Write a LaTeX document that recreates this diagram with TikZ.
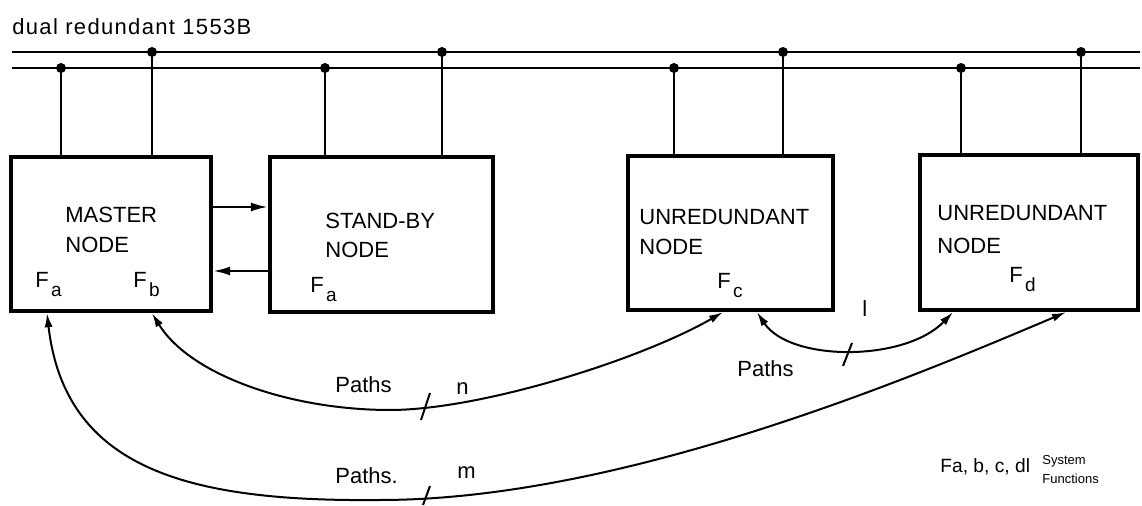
\documentclass[tikz,border=0pt]{standalone}
\usepackage{fontspec}
\setmainfont{Liberation Sans}
\usetikzlibrary{arrows.meta,calc}

% subscripted function label, e.g. \Fn{a}
\newcommand{\Fn}[1]{F\kern1.2pt\raisebox{-4.5pt}{\fontsize{9.5}{10}\selectfont #1}}

\tikzset{
  px/.style={x=0.5pt,y=-0.5pt},
  box/.style={draw,line width=2.2pt,inner sep=0pt},
  bus/.style={line width=1.1pt},
  tap/.style={line width=1.4pt},
  tapdot/.style={fill,circle,inner sep=0pt,minimum size=5pt},
  link/.style={line width=1.1pt,-{Latex[length=8.5pt,width=4.5pt]}},
  conn/.style={line width=1pt,{Latex[length=7pt,width=4pt]}-{Latex[length=7pt,width=4pt]}},
  tick/.style={line width=1pt},
  lbl/.style={inner sep=0pt,anchor=north west,align=left,
              font=\fontsize{11}{15}\selectfont},
  fn/.style={inner sep=0pt,anchor=base west,font=\fontsize{11}{13}\selectfont},
}

\begin{document}
\begin{tikzpicture}[px]
\useasboundingbox (0,0) rectangle (1142,506);

% title
\node[lbl,font=\addfontfeatures{LetterSpace=6}\fontsize{11}{13}\selectfont] (title) at (12,18) {dual redundant 1553B};

% the two bus lines
\coordinate (busAl) at (12,52);  \coordinate (busAr) at (1140,52);
\coordinate (busBl) at (12,68);  \coordinate (busBr) at (1140,68);
\draw[bus] (busAl) -- (busAr);
\draw[bus] (busBl) -- (busBr);

% nodes
\node[box,minimum width=100pt,minimum height=77pt]    (m)  at (111,234) {};
\node[box,minimum width=111.5pt,minimum height=77.5pt] (s) at (381.5,234.5) {};
\node[box,minimum width=102.5pt,minimum height=77pt]  (u1) at (730.5,233) {};
\node[box,minimum width=109pt,minimum height=77.5pt]  (u2) at (1029,232.5) {};

% bus taps: (x, bus) -> box top
\foreach \nm/\x/\y/\bx in {t1/61/68/m, t2/152/52/m, t3/325/68/s, t4/442/52/s,
                           t5/674/68/u1, t6/783/52/u1, t7/961/68/u2, t8/1081/52/u2}{
  \node[tapdot] (\nm) at (\x,\y) {};
  \draw[tap] (\nm.center) -- (\nm.center |- \bx.north);
}

% node texts
\node[lbl] (mT) at (65,207) {MASTER\\NODE};
\node[fn] (mFa) at (35,288) {\Fn{a}};
\node[fn] (mFb) at (133,288) {\Fn{b}};

\node[lbl,font=\fontsize{11}{14.5}\selectfont] (sT) at (325,213) {STAND-BY\\NODE};
\node[fn] (sFa) at (310,293) {\Fn{a}};

\node[lbl,font=\fontsize{11}{14.75}\selectfont] (u1T) at (639,209) {UNREDUNDANT\\NODE};
\node[fn] (u1Fc) at (717,289) {\Fn{c}};

\node[lbl,font=\fontsize{11}{16.5}\selectfont] (u2T) at (937,205) {UNREDUNDANT\\NODE};
\node[fn] (u2Fd) at (1009,283) {\Fn{d}};

% master <-> stand-by links
\draw[link] (m.east |- 0,207) -- (s.west |- 0,207);
\draw[link] (s.west |- 0,271) -- (m.east |- 0,271);

% path end points on the box bottoms
\coordinate (pmA) at ($(m.south)+(-64,0)$);
\coordinate (pmB) at ($(m.south)+(41,0)$);
\coordinate (pu1n) at ($(u1.south)+(-7.5,0)$);
\coordinate (pu1l) at ($(u1.south)+(26.5,0)$);
\coordinate (pu2l) at ($(u2.south)+(-76,0)$);
\coordinate (pu2m) at ($(u2.south)+(37,0)$);

% paths n
\draw[conn] (pmB) .. controls (190,375) and (290,410) .. (390,410)
                  .. controls (480,410) and (640,360) .. (pu1n);
% paths m
\draw[conn] (pmA) .. controls (65,470) and (190,502) .. (380,500)
                  .. controls (620,500) and (906,380) .. (pu2m);
% paths l
\draw[conn] (pu1l) .. controls (790,362) and (905,362) .. (pu2l);

% multiplicity ticks
\draw[tick] (421,420) -- (430,393);
\draw[tick] (423,505) -- (430,486);
\draw[tick] (843,366) -- (852,343);

% path labels
\node[lbl] (pn) at (335,376) {Paths};
\node[lbl] (nn) at (456,382) {n};
\node[lbl] (pm) at (335,467) {Paths.};
\node[lbl] (mm) at (457,466) {m};
\node[lbl] (pl) at (737,360) {Paths};
\node[lbl] (ll) at (862,300) {l};

% legend
\node[inner sep=0pt,anchor=base west,font=\fontsize{9.6}{10}\selectfont] (leg) at (940,473) {Fa, b, c, dl};
\node[inner sep=0pt,anchor=north west,align=left,font=\fontsize{6.5}{9.5}\selectfont] (legs) at (1042,455) {System\\Functions};
\end{tikzpicture}
\end{document}
